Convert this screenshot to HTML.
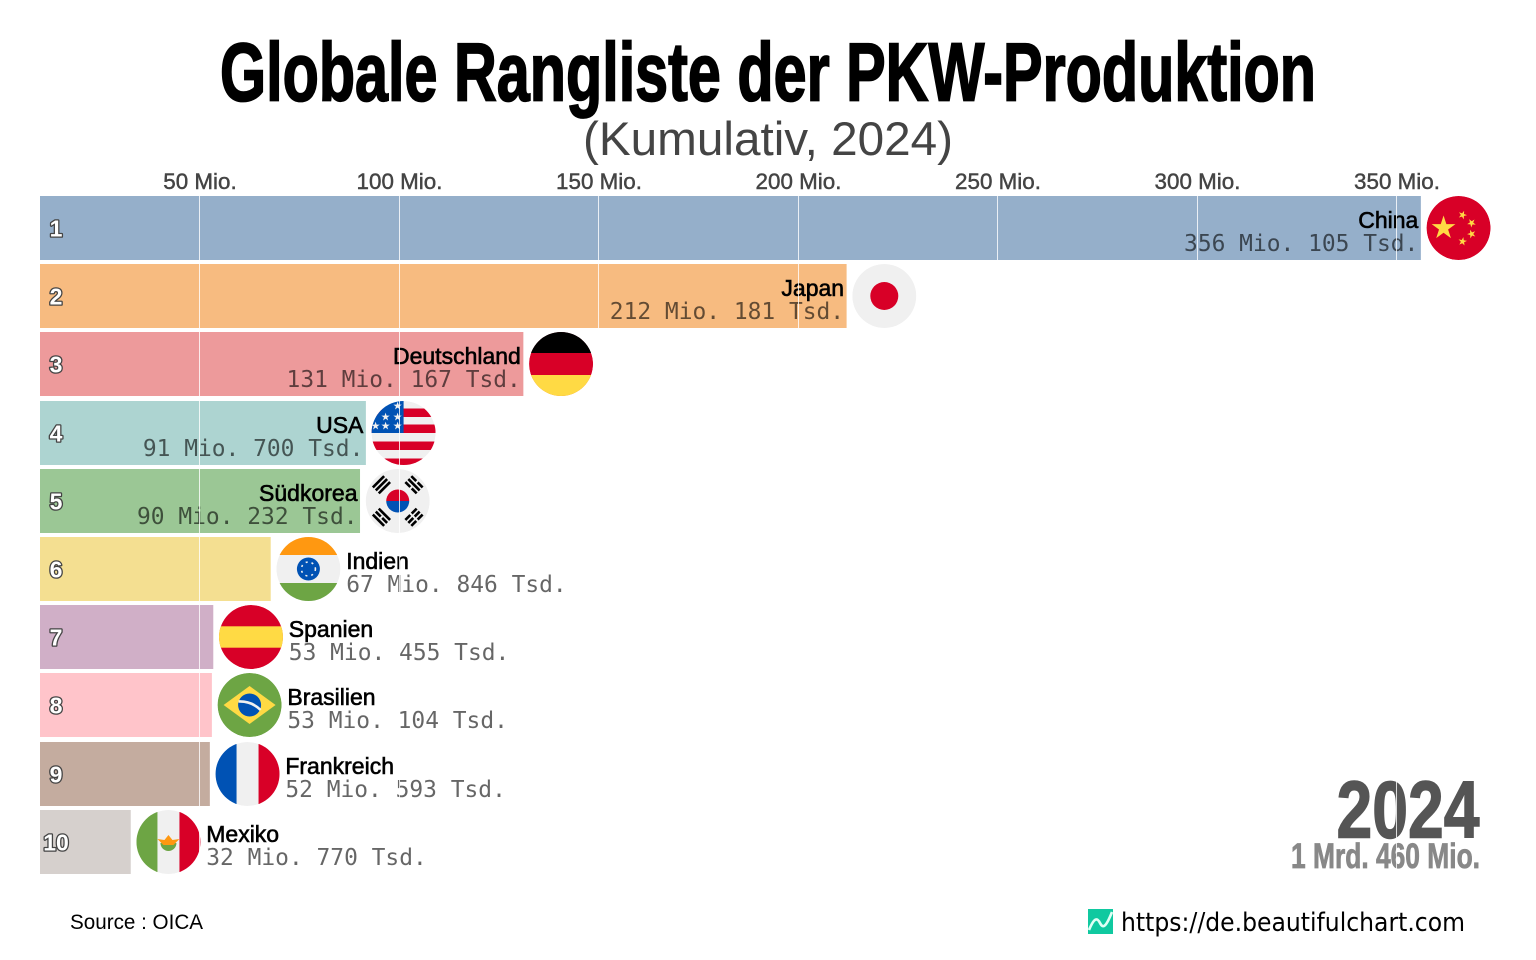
<!DOCTYPE html>
<html lang="de">
<head>
<meta charset="utf-8">
<title>Globale Rangliste der PKW-Produktion</title>
<style>
html,body{margin:0;padding:0;background:#fff;width:1536px;height:960px;overflow:hidden}
svg{display:block}
text{font-family:"Liberation Sans",sans-serif}
.cond{font-family:"Liberation Sans Narrow","Liberation Sans",sans-serif;font-weight:700}
.mono{font-family:"DejaVu Sans Mono","Liberation Mono",monospace}
</style>
</head>
<body>
<svg id="chart" xmlns="http://www.w3.org/2000/svg" width="1536" height="960" viewBox="0 0 1536 960">
  <defs>
    <clipPath id="flag-clip"><circle r="32"/></clipPath>
    <clipPath id="plot-clip"><rect x="40" y="190" width="1460" height="690"/></clipPath>
    <polygon id="star" points="0,-1 0.225,-0.309 0.951,-0.309 0.363,0.118 0.588,0.809 0,0.382 -0.588,0.809 -0.363,0.118 -0.951,-0.309 -0.225,-0.309"/>
    <g id="flag-China" clip-path="url(#flag-clip)">
      <circle r="32" fill="#d80027"/>
      <use href="#star" fill="#ffda44" transform="translate(-15,0) scale(12.5)"/>
      <use href="#star" fill="#ffda44" transform="translate(4,-13) rotate(20) scale(4.5)"/>
      <use href="#star" fill="#ffda44" transform="translate(13,-5) rotate(40) scale(4.5)"/>
      <use href="#star" fill="#ffda44" transform="translate(13,6) rotate(-20) scale(4.5)"/>
      <use href="#star" fill="#ffda44" transform="translate(4,13.5) rotate(10) scale(4.5)"/>
    </g>
    <g id="flag-Japan" clip-path="url(#flag-clip)">
      <circle r="32" fill="#f0f0f0"/>
      <circle r="14" fill="#d80027"/>
    </g>
    <g id="flag-Deutschland" clip-path="url(#flag-clip)">
      <circle r="32" fill="#d80027"/>
      <rect x="-32" y="-32" width="64" height="21" fill="#000"/>
      <rect x="-32" y="11" width="64" height="21" fill="#ffda44"/>
    </g>
    <g id="flag-USA" clip-path="url(#flag-clip)">
      <circle r="32" fill="#f0f0f0"/>
      <rect x="-32" y="-24.5" width="64" height="8.5" fill="#d80027"/>
      <rect x="-32" y="-8.5" width="64" height="8.5" fill="#d80027"/>
      <rect x="-32" y="8.5" width="64" height="8.5" fill="#d80027"/>
      <rect x="-32" y="25.5" width="64" height="7" fill="#d80027"/>
      <rect x="-32" y="-32" width="32" height="32" fill="#0052b4"/>
      <g fill="#f0f0f0">
        <use href="#star" transform="translate(-6,-27) scale(4.4)"/>
        <use href="#star" transform="translate(-6,-16) scale(4.4)"/>
        <use href="#star" transform="translate(-6,-7) scale(4.4)"/>
        <use href="#star" transform="translate(-18,-16) scale(4.4)"/>
        <use href="#star" transform="translate(-18,-7) scale(4.4)"/>
        <use href="#star" transform="translate(-28,-7) scale(4.4)"/>
      </g>
    </g>
    <g id="flag-Südkorea" clip-path="url(#flag-clip)">
      <circle r="32" fill="#f0f0f0"/>
      <path d="M-11.5,0A11.5,11.5 0 0 1 11.5,0Z" fill="#d80027"/>
      <path d="M-11.5,0A11.5,11.5 0 0 0 11.5,0Z" fill="#0052b4"/>
      <g fill="#000">
        <g transform="rotate(-45) translate(0,-23)"><rect x="-8" y="-5.5" width="16" height="2.6"/><rect x="-8" y="-1.3" width="16" height="2.6"/><rect x="-8" y="2.9" width="16" height="2.6"/></g>
        <g transform="rotate(45) translate(0,-23)"><rect x="-8" y="-5.5" width="7" height="2.6"/><rect x="1" y="-5.5" width="7" height="2.6"/><rect x="-8" y="-1.3" width="16" height="2.6"/><rect x="-8" y="2.9" width="7" height="2.6"/><rect x="1" y="2.9" width="7" height="2.6"/></g>
        <g transform="rotate(-135) translate(0,-23)"><rect x="-8" y="-5.5" width="16" height="2.6"/><rect x="-8" y="-1.3" width="7" height="2.6"/><rect x="1" y="-1.3" width="7" height="2.6"/><rect x="-8" y="2.9" width="16" height="2.6"/></g>
        <g transform="rotate(135) translate(0,-23)"><rect x="-8" y="-5.5" width="7" height="2.6"/><rect x="1" y="-5.5" width="7" height="2.6"/><rect x="-8" y="-1.3" width="7" height="2.6"/><rect x="1" y="-1.3" width="7" height="2.6"/><rect x="-8" y="2.9" width="7" height="2.6"/><rect x="1" y="2.9" width="7" height="2.6"/></g>
      </g>
    </g>
    <g id="flag-Indien" clip-path="url(#flag-clip)">
      <circle r="32" fill="#f0f0f0"/>
      <rect x="-32" y="-32" width="64" height="18" fill="#ff9811"/>
      <rect x="-32" y="14" width="64" height="18" fill="#6da544"/>
      <circle r="11.5" fill="#0052b4"/>
      <circle r="7" fill="none" stroke="#f0f0f0" stroke-width="1.6" stroke-dasharray="2 4"/>
      <circle r="3.5" fill="#0052b4"/>
    </g>
    <g id="flag-Spanien" clip-path="url(#flag-clip)">
      <circle r="32" fill="#d80027"/>
      <rect x="-32" y="-10.7" width="64" height="21.4" fill="#ffda44"/>
    </g>
    <g id="flag-Brasilien" clip-path="url(#flag-clip)">
      <circle r="32" fill="#6da544"/>
      <polygon points="0,-19 26,0 0,19 -26,0" fill="#ffda44"/>
      <circle r="11.5" fill="#0052b4"/>
      <path d="M-11,-3.5Q2,-4 11,5" fill="none" stroke="#f0f0f0" stroke-width="2.6"/>
    </g>
    <g id="flag-Frankreich" clip-path="url(#flag-clip)">
      <circle r="32" fill="#f0f0f0"/>
      <rect x="-32" y="-32" width="21" height="64" fill="#0052b4"/>
      <rect x="11" y="-32" width="21" height="64" fill="#d80027"/>
    </g>
    <g id="flag-Mexiko" clip-path="url(#flag-clip)">
      <circle r="32" fill="#f0f0f0"/>
      <rect x="-32" y="-32" width="21" height="64" fill="#6da544"/>
      <rect x="11" y="-32" width="21" height="64" fill="#d80027"/>
      <path d="M-8,1A8,8 0 0 0 8,1Z" fill="#6da544"/>
      <path d="M-11,-3L-4,-2L0,-7L4,-2L11,-3L5,3H-5Z" fill="#ff9811"/>
    </g>
  </defs>

  <text class="cond" x="768" y="100.5" font-size="83" text-anchor="middle" fill="#000" stroke="#000" stroke-width="1.8" textLength="1096" lengthAdjust="spacingAndGlyphs">Globale Rangliste der PKW-Produktion</text>
  <text x="768" y="155" font-size="47" text-anchor="middle" fill="#444" textLength="370" lengthAdjust="spacingAndGlyphs">(Kumulativ, 2024)</text>

  <g id="axis"></g>
  <g id="rows" clip-path="url(#plot-clip)"></g>
  <g id="year-block"></g>
  <g id="grid"></g>

  <text x="70" y="929" font-size="21" fill="#000" textLength="133" lengthAdjust="spacingAndGlyphs">Source : OICA</text>
  <g>
    <rect x="1088" y="909" width="25" height="25" fill="#10c9a0"/>
    <path d="M1089,930C1094,918 1097,917 1100,923S1106,927 1112,912" fill="none" stroke="#dffff5" stroke-width="2.6"/>
  </g>
  <text x="1121" y="931" font-size="26" fill="#000" textLength="344" lengthAdjust="spacingAndGlyphs" style="font-family:'DejaVu Sans',sans-serif">https://de.beautifulchart.com</text>
</svg>

<script>
// Chart data
const countries = ["China","Japan","Deutschland","USA","Südkorea","Indien","Spanien","Brasilien","Frankreich","Mexiko"];
const valuesThousand = [356105,212181,131167,91700,90232,67846,53455,53104,52593,32770];
const tickValues = [50,100,150,200,250,300,350];
const barColors = ["#4e79a7","#f28e2b","#e15759","#76b7b2","#59a14f","#edc948","#b07aa1","#ff9da7","#9c755f","#bab0ac"];
const yearLabel = ["2024"];
const totalLabel = ["1 Mrd. 460 Mio."];

const NS = "http://www.w3.org/2000/svg";
const PX_PER_MIO = 3.99;
const PLOT_LEFT = 40;
const ROW_TOP = 196;
const ROW_STEP = 68.2;
const ROW_H = 64;
const INSIDE_MIN_MIO = 80;

function xScale(mio){ return mio * PX_PER_MIO; }
function yScale(i){ return Math.round(ROW_TOP + i * ROW_STEP); }
function make(tag, parent, attrs, text){
  const e = document.createElementNS(NS, tag);
  for (const k in attrs) e.setAttribute(k, attrs[k]);
  if (text !== undefined) e.textContent = text;
  parent.appendChild(e);
  return e;
}
function valueLabel(t){
  const mio = Math.floor(t / 1000);
  const tsd = String(t % 1000).padStart(3, "0");
  return mio + " Mio. " + tsd + " Tsd.";
}

const axisG = document.getElementById("axis");
const gridG = document.getElementById("grid");
const rowsG = document.getElementById("rows");
const yearG = document.getElementById("year-block");

tickValues.forEach(function(v){
  const label = make("text", axisG, {x: xScale(v) + 0.5, y: 189, "font-size": 22.4, "text-anchor": "middle", fill: "#444", stroke: "#444", "stroke-width": 0.45}, v + " Mio.");
  
  
  const line = make("line", gridG, {x1: Math.floor(xScale(v)) + 0.5, x2: Math.floor(xScale(v)) + 0.5, y1: ROW_TOP, y2: yScale(9) + ROW_H, stroke: "#fff", "stroke-width": 1, "stroke-opacity": 0.8});
  
  
});

countries.forEach(function(name, i){
  const mio = valuesThousand[i] / 1000;
  const end = xScale(mio);
  const top = yScale(i);

  const row = make("g", rowsG, {});
  
  

  const bar = make("rect", row, {x: PLOT_LEFT, y: top, width: Math.max(0, end - PLOT_LEFT), height: ROW_H, fill: barColors[i], "fill-opacity": 0.6});
  
  

  const rank = make("text", row, {x: 56, y: top + 40.5, "font-size": 23, "font-weight": 700, "text-anchor": "middle", fill: "#fff", stroke: "#444", "stroke-width": 2.6, "paint-order": "stroke", "stroke-linejoin": "round"}, String(i + 1));
  
  

  const flag = make("use", row, {href: "#flag-" + name, transform: "translate(" + (end + 37.7) + "," + (top + 32) + ")"});
  
  

  const inside = mio >= INSIDE_MIN_MIO;
  const tx = inside ? end - 2.5 : end + 75.5;
  const anchor = inside ? "end" : "start";

  const nameText = make("text", row, {x: tx, y: top + 32, "font-size": 23, "text-anchor": anchor, fill: "#000", stroke: "#000", "stroke-width": 0.6}, name);
  
  

  const valText = make("text", row, {class: "mono", x: tx, y: top + 55, "font-size": 22.9, "text-anchor": anchor, fill: "#000", "fill-opacity": 0.6}, valueLabel(valuesThousand[i]));
  
  
});

const yearText = make("text", yearG, {class: "cond", x: 1479.5, y: 837.5, "font-size": 81, "text-anchor": "end", fill: "#555", stroke: "#555", "stroke-width": 1.4, textLength: 143, lengthAdjust: "spacingAndGlyphs"}, yearLabel[0]);



const totalText = make("text", yearG, {class: "cond", x: 1480, y: 868, "font-size": 35, "text-anchor": "end", fill: "#888", stroke: "#888", "stroke-width": 0.8, textLength: 189, lengthAdjust: "spacingAndGlyphs"}, totalLabel[0]);


</script>
</body>
</html>
